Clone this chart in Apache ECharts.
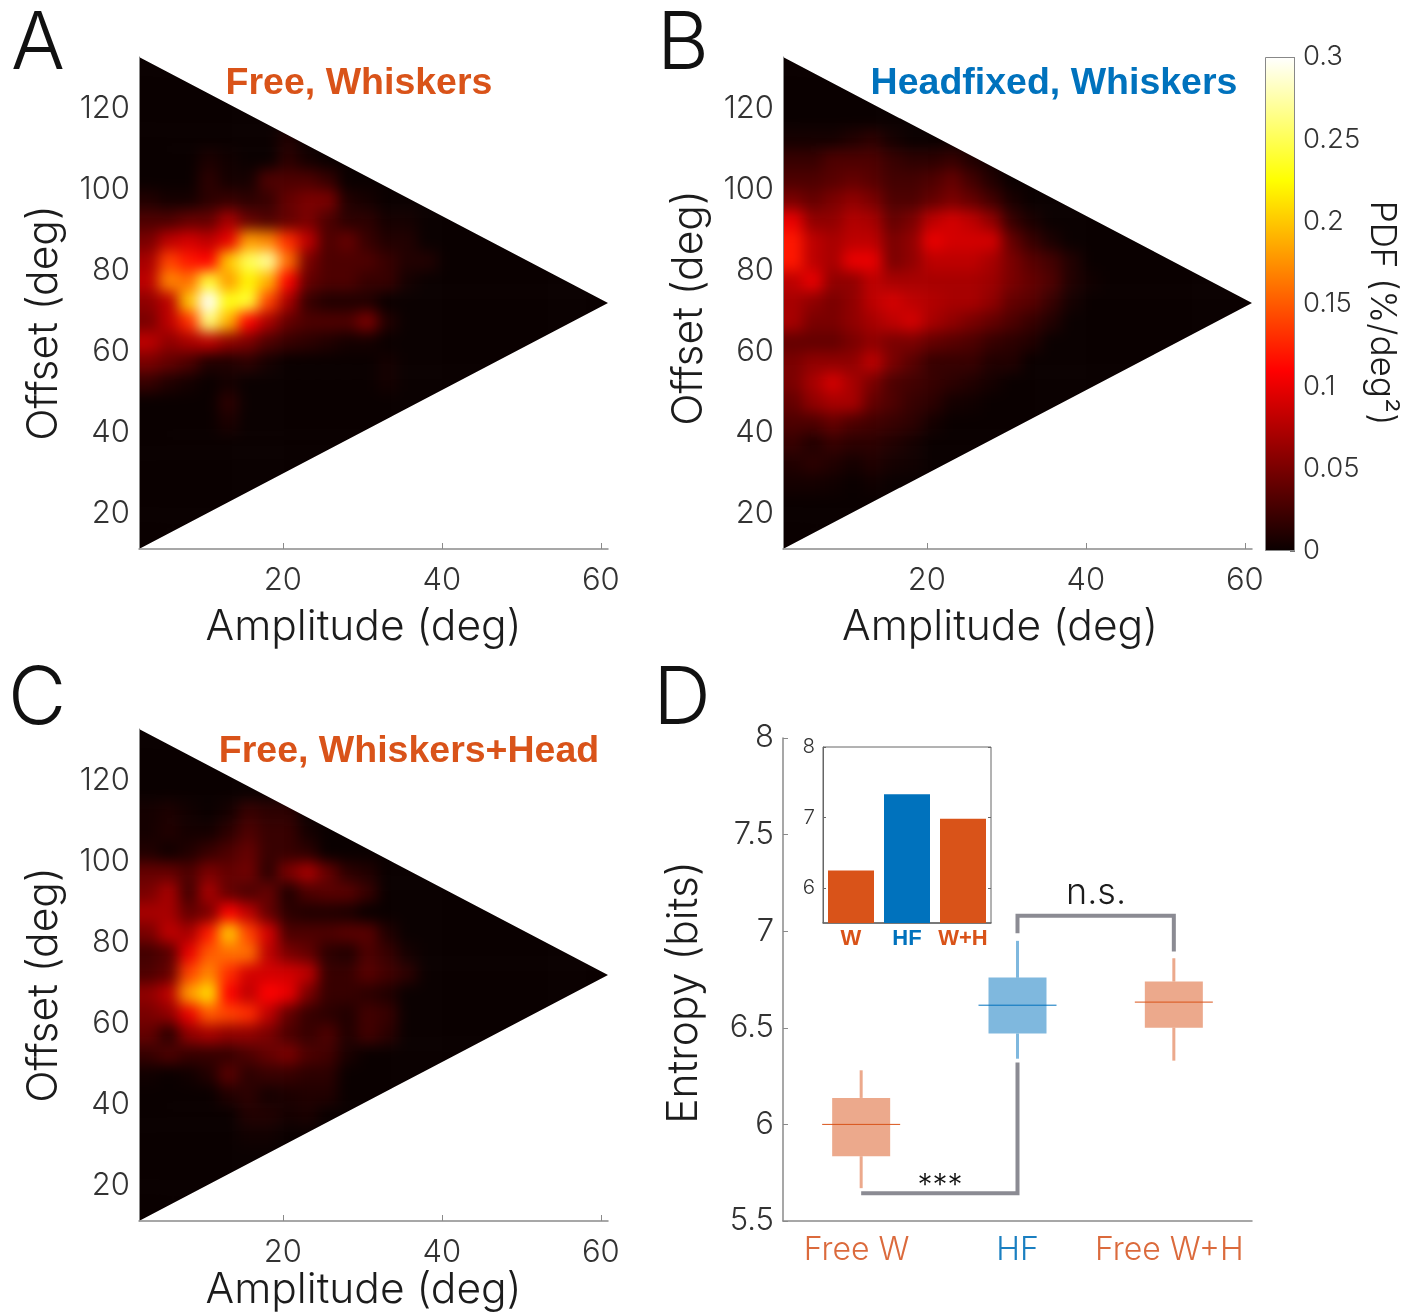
<!DOCTYPE html>
<html>
<head>
<meta charset="utf-8">
<style>html,body{margin:0;padding:0;background:#fff}#c{width:1420px;height:1312px;background:#fff}</style>
<script src="https://cdn.jsdelivr.net/npm/echarts@6/dist/echarts.min.js"></script>
</head>
<body>
<div id="c"></div>
<script>
// Bin centres of the density maps
const ampBins = [3.15,5.65,8.15,10.65,13.15,15.65,18.15,20.65,23.15,25.65,28.15,30.65,33.15,35.65,38.15,40.65,43.15,45.65,48.15,50.65,53.15,55.65,58.15,60.65];
const offsetBins = [132.5,127.5,122.5,117.5,112.5,107.5,102.5,97.5,92.5,87.5,82.5,77.5,72.5,67.5,62.5,57.5,52.5,47.5,42.5,37.5,32.5,27.5,22.5,17.5,12.5];
// PDF in 0.01 %/deg2, one row per offset bin (missing trailing bins are 0)
const freeWhiskers = [
 [],[],[],[],
 [0,0,0,0,0,0,0,1],
 [0,0,0,.8,.3,0,0,1.5,.5],
 [0,0,0,1.5,.5,.5,3,3,3,2],
 [1,.5,.5,1.5,2,1.5,2,4,5,5,1,.5],
 [3,3,4,4,7,4,3,4,5,3,1.5,1.5,.5,.5],
 [5,8,9,8,10,18,17,13,8,3,4,2,1,1],
 [7,14,12,11,20,25,27,16,5,3,3,3,2,1,1],
 [8,17,16,24,18,22,19,11,4,3,3,2,2,.5],
 [6,8,20,33,23,24,14,7,2,1,1,1],
 [5,8,13,26,19,11,7,4,3,3,3,5,1],
 [8,6,7,8,6,5,3,2,1.5,1,.5,.5],
 [5,4,3,1,1,1.5,.5,0,0,0,0,0,.5],
 [2,1,.5,0,.5,0,0,0,0,0,0,0,.5],
 [0,0,0,0,1.5],
 [0,0,0,0,.8],
 [],[],[],[],[],[]
];
const headfixedWhiskers = [
 [],[],[],[],
 [.5,.5,.5,1,1.5,.5],
 [2,2,3,3,3,2,1.5,1.5,2,1,.3],
 [3,3,3.5,4,3.5,2.5,2.5,3,4,2.5,1],
 [5,4,5,6,5,3,3,4,5,4,2.5,.7],
 [10,6,6,7.5,7,4,5,8,9,8,6,2,.7],
 [12,8,7,8,8,5,6,10,9,9,9,4,2,.7],
 [12,8,7,10,10,5,6,8,8,8,7,5,3.5,2.5,1],
 [8,10,6,6,8,7,7,7,7,7,6.5,5,4,3,1,.3],
 [7,6,5,6,8,9,8,7.5,7,7,6,4,3.5,2,.5],
 [7,5,5,6,7,8,9,7,6,5,4,3,2,1],
 [4,4,4,5,6,5,5,4,3.5,3,2,1.5,1],
 [5,6,6,6,8,5,3.5,2,2,2,1,1],
 [5,7,9,7,5,3,2.5,2,1.5,1,.5],
 [4,6,7,7,4,3,2,1.5,.5,.3],
 [3,3,4,3,2.5,2,1.5,.5],
 [2,1,2,1.5,1.5,1,.5],
 [1,1.5,1,.5,1,.5,.3],
 [.5,.5,.3,0,.3],
 [],[],[]
];
const freeWhiskersHead = [
 [],[],[],[],
 [.5,.8,.3,0,.5,2,1.5,1.5],
 [.5,1,.5,.5,1.5,3,2,2,.5],
 [1,.3,1,2,3,4,2,2,1.5],
 [4,4,3,5,4,4.5,1.5,5,7,4,1.5,1],
 [5,7,2.5,7,4,3,4,1,3,3.5,3.5,2],
 [7,7,4,5,11,8,4,1.5,1,1,.8],
 [5,8,7,12,20,14,9,3,3,3,3.5,3.5,1],
 [2.5,3.5,10,15,16,16,8,5,4,1.5,1,3,2,.5],
 [3,4,14,17,13,9,9,9,8,2,2,3.5,2.5,1.5],
 [6,8,18,21,11,8,11,10,5,2,2,1.5,1],
 [5,6,10,15,14,13,8,4,2,1.5,1,2.5,2],
 [4,1.5,6,7,6,6,5,3,2,3,1,2.5,1.5],
 [2,3,2,2,2,3,4,5,3,2.5,.7],
 [.3,0,.3,1,3.5,1.5,2,2,1.5,1.5],
 [0,0,0,0,1,1.5,.5,.8,1,1],
 [0,0,0,0,0,1,1,.5,.7],
 [0,0,0,0,0,.3,.3],
 [],[],[],[]
];
// Outline of the sampled parameter region (amplitude, offset)
const triangleCorners = [[1.9,132.8],[1.9,11.4],[60.9,72.1]];
const ampTicks = [20,40,60];
const offsetTicks = [20,40,60,80,100,120];
const pdfTicks = [0,0.05,0.1,0.15,0.2,0.25,0.3];
// Panel D
const boxCategories = ['Free W','HF','Free W+H'];
const boxWhiskerLow = [5.67,6.34,6.33];
const boxQ1 = [5.835,6.47,6.50];
const boxMedian = [6.0,6.617,6.633];
const boxQ3 = [6.137,6.76,6.74];
const boxWhiskerHigh = [6.28,6.95,6.86];
const entropyTicks = [5.5,6,6.5,7,7.5,8];
const bracketLow = [[0,5.644],[1,5.644],[1,6.32]];
const bracketHigh = [[1,6.99],[1,7.08],[2,7.08],[2,6.895]];
const insetCategories = ['W','HF','W+H'];
const insetValues = [6.245,7.33,6.98];
const insetTicks = [6,7,8];

const ORANGE='#d95319', BLUE='#0072bd', GRAY='#8b8b93';
const LIGHT='Inter', TICK='#333', NAME='#1c1c1c';
const catColors=['#db6a3c','#1a7fc1','#db6a3c'];

function hot(t){ // MATLAB "hot" colormap
 t=Math.max(0,Math.min(1,t));
 const r=Math.min(1,.04+.96*t/.365), g=Math.max(0,Math.min(1,(t-.365)/.385)), b=Math.max(0,(t-.75)/.25);
 return 'rgb('+Math.round(r*255)+','+Math.round(g*255)+','+Math.round(b*255)+')';
}
const hotStops=[0,.1,.2,.365,.5,.65,.75,.85,1].map(o=>({offset:o,color:hot(o)}));

function cells(rows){
 const out=[];
 offsetBins.forEach((o,r)=>ampBins.forEach((a,c)=>{
  const v=(rows[r]&&rows[r][c])||0; out.push([a,o,v,c,r]);
 }));
 return out;
}
function heatItem(params,api){
 const a=api.value(0),o=api.value(1),v=api.value(2),c=api.value(3),r=api.value(4);
 const p0=api.coord([a-1.25-(c===0?5:0),o+2.5+(r===0?8:0)]);
 const p1=api.coord([a+1.25+(c===ampBins.length-1?5:0),o-2.5-(r===offsetBins.length-1?8:0)]);
 return {type:'rect',shape:{x:p0[0],y:p0[1],width:p1[0]-p0[0]+.5,height:p1[1]-p0[1]+.5},style:{fill:hot(v/30)}};
}
function heatSeries(i,rows){
 return {type:'custom',name:'heat'+i,xAxisIndex:i,yAxisIndex:i,data:cells(rows),renderItem:heatItem,
  encode:{x:0,y:1},zlevel:0,silent:true,clip:false,progressive:0};
}
const axCommon={zlevel:1,splitLine:{show:false}};
function ampAxis(grid,px){
 return Object.assign({},axCommon,{gridIndex:grid,type:'value',min:1.9,max:60.9,
  axisLine:{show:true,onZero:false,lineStyle:{color:'#8a8a8a',width:1.5}},
  axisTick:{show:true,inside:true,length:6,customValues:ampTicks,lineStyle:{color:'#8a8a8a'}},
  axisLabel:{customValues:ampTicks,fontFamily:LIGHT,fontWeight:300,fontSize:31,color:TICK,margin:16},
  name:'Amplitude (deg)',nameLocation:'middle',nameGap:px.gap,
  nameTextStyle:{fontFamily:LIGHT,fontWeight:300,fontSize:42.5,color:NAME,padding:[0,px.shift,0,0]}});
}
function offAxis(grid,shift,gap){
 return Object.assign({},axCommon,{gridIndex:grid,type:'value',min:11.4,max:132.8,
  axisLine:{show:true,onZero:false,lineStyle:{color:'#8a8a8a',width:1}},
  axisTick:{show:false},
  axisLabel:{customValues:offsetTicks,fontFamily:LIGHT,fontWeight:300,fontSize:31,color:TICK,margin:9,padding:[8,0,0,0]},
  name:'Offset (deg)',nameLocation:'middle',nameGap:gap,
  nameTextStyle:{fontFamily:LIGHT,fontWeight:300,fontSize:42.5,color:NAME,padding:shift}});
}
function letter(t,x,y){return {type:'text',zlevel:1,x:x,y:y,style:{text:t,fontFamily:LIGHT,fontWeight:300,fontSize:80,fill:'#111',align:'center',verticalAlign:'middle'}};}
function note(t,x,y,s,color){return {type:'text',zlevel:1,x:x,y:y,style:{text:t,fontFamily:LIGHT,fontWeight:300,fontSize:s,fill:color,align:'center',verticalAlign:'middle'}};}

function boxItem(params,api){
 const i=api.value(0),col=params.dataIndex===1?BLUE:ORANGE;
 const x=api.coord([i,0])[0];
 const Y=v=>api.coord([0,v])[1];
 const lo=Y(api.value(1)),q1=Y(api.value(2)),m=Y(api.value(3)),q3=Y(api.value(4)),hi=Y(api.value(5));
 return {type:'group',children:[
  {type:'line',shape:{x1:x,y1:hi,x2:x,y2:q3},style:{stroke:col,lineWidth:3,opacity:.5}},
  {type:'line',shape:{x1:x,y1:q1,x2:x,y2:lo},style:{stroke:col,lineWidth:3,opacity:.5}},
  {type:'rect',shape:{x:x-29,y:q3,width:58,height:q1-q3},style:{fill:col,opacity:.5}},
  {type:'line',shape:{x1:x-39,y1:m,x2:x+39,y2:m},style:{stroke:col,lineWidth:1,opacity:1}}
 ]};
}

const chart=echarts.init(document.getElementById('c'),null,{renderer:'canvas'});
const noBounds={outerBoundsMode:'none'};
chart.setOption({
 animation:false,backgroundColor:'transparent',
 grid:[
  Object.assign({left:139,top:57,width:469,height:492},noBounds),
  Object.assign({left:783,top:57,width:469,height:492},noBounds),
  Object.assign({left:139,top:729,width:469,height:492},noBounds),
  Object.assign({left:783,top:738,width:469,height:483},noBounds),
  Object.assign({left:823,top:747,width:168,height:176,z:5,zlevel:1,show:true,borderColor:'#666',borderWidth:1,backgroundColor:'transparent'},noBounds),
  Object.assign({left:1265,top:57,width:30,height:494},noBounds)
 ],
 title:[
  {text:'Free, Whiskers',left:354,top:79,zlevel:1,textAlign:'center',textVerticalAlign:'middle',textStyle:{fontFamily:'Liberation Sans',fontWeight:'bold',fontSize:37.5,color:ORANGE}},
  {text:'Headfixed, Whiskers',left:1049,top:79,zlevel:1,textAlign:'center',textVerticalAlign:'middle',textStyle:{fontFamily:'Liberation Sans',fontWeight:'bold',fontSize:37.5,color:BLUE}},
  {text:'Free, Whiskers+Head',left:404,top:747,zlevel:1,textAlign:'center',textVerticalAlign:'middle',textStyle:{fontFamily:'Liberation Sans',fontWeight:'bold',fontSize:37.5,color:ORANGE}}
 ],
 xAxis:[
  ampAxis(0,{gap:57,shift:20}),ampAxis(1,{gap:57,shift:35}),ampAxis(2,{gap:46,shift:20}),
  Object.assign({},axCommon,{gridIndex:3,type:'category',
   data:boxCategories.map((c,i)=>({value:c,textStyle:{padding:[0,i===1?0:9,0,0]}})),
   axisLine:{lineStyle:{color:'#8a8a8a',width:1.5}},axisTick:{show:false},
   axisLabel:{interval:0,fontFamily:LIGHT,fontWeight:300,fontSize:32,margin:13,color:(v,i)=>catColors[i]}}),
  Object.assign({},axCommon,{gridIndex:4,type:'category',data:insetCategories,
   axisLine:{lineStyle:{color:'#666',width:1.5}},axisTick:{show:false},
   axisLabel:{interval:0,fontFamily:'Liberation Sans',fontWeight:'bold',fontSize:22,margin:5,color:(v,i)=>i===1?BLUE:ORANGE}}),
  Object.assign({},axCommon,{gridIndex:5,type:'category',data:['pdf'],axisLine:{show:false},axisTick:{show:false},axisLabel:{show:false}})
 ],
 yAxis:[
  offAxis(0,[0,40,0,0],73),offAxis(1,[0,10,0,0],72),offAxis(2,[0,20,0,0],73),
  Object.assign({},axCommon,{gridIndex:3,type:'value',min:5.5,max:8,
   axisLine:{show:true,lineStyle:{color:'#8a8a8a',width:1.5}},
   axisTick:{show:true,inside:true,length:5,customValues:entropyTicks,lineStyle:{color:'#8a8a8a'}},
   axisLabel:{customValues:entropyTicks,fontFamily:LIGHT,fontWeight:300,fontSize:31,color:TICK,margin:9,padding:[7,0,0,0],formatter:v=>String(v)},
   name:'Entropy (bits)',nameLocation:'middle',nameGap:77,
   nameTextStyle:{fontFamily:LIGHT,fontWeight:300,fontSize:42.5,color:NAME,padding:[0,26,0,0]}}),
  Object.assign({},axCommon,{gridIndex:4,type:'value',min:5.5,max:8,
   axisLine:{show:true,lineStyle:{color:'#666'}},
   axisTick:{show:true,inside:true,length:3,customValues:insetTicks,lineStyle:{color:'#666'}},
   axisLabel:{customValues:insetTicks,fontFamily:LIGHT,fontWeight:300,fontSize:20.5,color:TICK,margin:8}}),
  Object.assign({},axCommon,{gridIndex:5,type:'value',min:0,max:.3,position:'right',
   axisLine:{show:false},
   axisTick:{show:true,inside:true,length:5,customValues:pdfTicks,lineStyle:{color:'#777'}},
   axisLabel:{customValues:pdfTicks,fontFamily:LIGHT,fontWeight:300,fontSize:27.5,color:TICK,margin:8,padding:[4,0,0,0],formatter:v=>String(v)},
   name:'PDF (%/deg²)',nameLocation:'middle',nameRotate:-90,nameGap:68,
   nameTextStyle:{fontFamily:LIGHT,fontWeight:300,fontSize:35,color:NAME,padding:[0,0,0,18]}}),
  Object.assign({},axCommon,{gridIndex:4,type:'value',min:5.5,max:8,position:'right',
   axisLine:{show:false},
   axisTick:{show:true,inside:true,length:3,customValues:insetTicks,lineStyle:{color:'#666'}},
   axisLabel:{show:false}})
 ],
 series:[
  heatSeries(0,freeWhiskers),heatSeries(1,headfixedWhiskers),heatSeries(2,freeWhiskersHead),
  {type:'custom',xAxisIndex:3,yAxisIndex:3,zlevel:1,silent:true,renderItem:boxItem,
   encode:{x:0,y:[1,2,3,4,5]},
   data:boxMedian.map((m,i)=>[i,boxWhiskerLow[i],boxQ1[i],m,boxQ3[i],boxWhiskerHigh[i]])},
  {type:'line',xAxisIndex:3,yAxisIndex:3,zlevel:1,silent:true,data:bracketLow,symbol:'none',lineStyle:{color:GRAY,width:4,join:'miter'}},
  {type:'line',xAxisIndex:3,yAxisIndex:3,zlevel:1,silent:true,data:bracketHigh,symbol:'none',lineStyle:{color:GRAY,width:4,join:'miter'}},
  {type:'bar',xAxisIndex:4,yAxisIndex:4,zlevel:1,z:6,silent:true,barWidth:46,
   data:insetValues.map((v,i)=>({value:v,itemStyle:{color:i===1?BLUE:ORANGE}}))},
  {type:'bar',xAxisIndex:5,yAxisIndex:5,zlevel:1,silent:true,barWidth:30,data:[pdfTicks[pdfTicks.length-1]],
   itemStyle:{borderColor:'#888',borderWidth:1,color:new echarts.graphic.LinearGradient(0,1,0,0,hotStops)}}
 ],
 graphic:[
  letter('A',38,45),letter('B',683,45),letter('C',37,700),letter('D',682,700),
  note('n.s.',1096,893,36,'#1c1c1c'),
  note('***',940,1186,30,'#111')
 ]
});
// Smooth the binned maps and cut them to the triangle (only the heat layer lives on zlevel 0)
function triPath(g){
 const p=triangleCorners.map(c=>chart.convertToPixel({gridIndex:g},c));
 return 'M'+p.map(q=>q[0]+' '+q[1]).join(' L')+' Z';
}
const baseCanvas=document.querySelector('#c canvas');
baseCanvas.style.filter='blur(7px)';
baseCanvas.style.clipPath="path('"+[0,1,2].map(triPath).join(' ')+"')";
</script>
</body>
</html>
